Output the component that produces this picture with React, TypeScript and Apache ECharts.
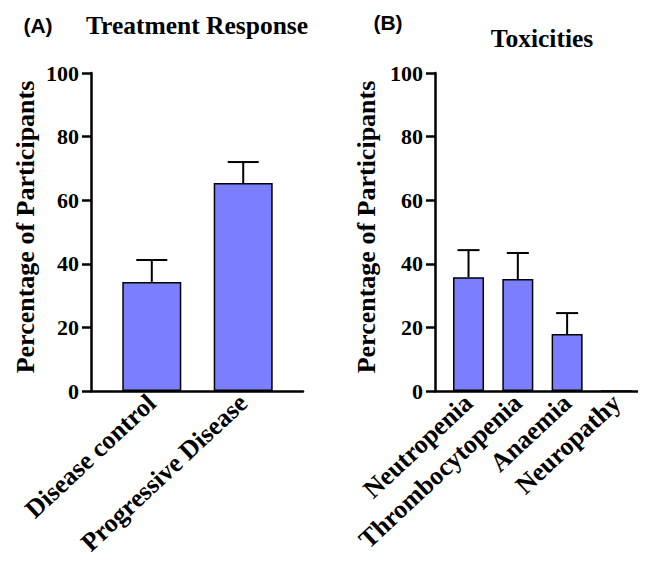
import React, { useEffect, useRef } from "react";
import * as echarts from "echarts";

const catsA = ["Disease control", "Progressive Disease"];
const meanA = [34.3, 65.4];
const errA = [6.9, 6.6];

const catsB = ["Neutropenia", "Thrombocytopenia", "Anaemia", "Neuropathy"];
const meanB = [35.8, 35.2, 17.9, 0];
const errB = [8.5, 8.2, 6.6, 0];

const SERIF = "'Liberation Serif', 'Times New Roman', serif";
const SANS = "'Liberation Sans', Arial, sans-serif";
const BAR = "#7B7FFF";

function errRender(cap: number) {
  return (params: any, api: any) => {
    const x = api.value(0);
    const y = api.value(1);
    const e = api.value(2);
    if (!e) return null;
    const base = api.coord([x, y]);
    const top = api.coord([x, y + e]);
    const st = { stroke: "#000", lineWidth: 2 };
    return {
      type: "group",
      children: [
        { type: "line", shape: { x1: base[0], y1: base[1], x2: top[0], y2: top[1] }, style: st },
        { type: "line", shape: { x1: top[0] - cap / 2, y1: top[1], x2: top[0] + cap / 2, y2: top[1] }, style: st },
      ],
    };
  };
}

export default function App() {
  const ref = useRef<HTMLDivElement>(null);
  useEffect(() => {
    const chart = echarts.init(ref.current!, null, { renderer: "svg" });
    const yAxisCommon = {
      type: "value",
      min: 0,
      max: 100,
      interval: 20,
      name: "Percentage of Participants",
      nameLocation: "middle",
      nameTextStyle: { fontFamily: SERIF, fontWeight: "bold", fontSize: 26, color: "#000", padding: [0, 0, 0, 10] },
      axisLine: { show: true, onZero: false, lineStyle: { color: "#000", width: 2.5 } },
      axisTick: { show: true, length: 9, lineStyle: { color: "#000", width: 2.5 } },
      axisLabel: { fontFamily: SERIF, fontWeight: "bold", fontSize: 22, color: "#000", margin: 12 },
      splitLine: { show: false },
    };
    const xAxisCommon = (cats: string[]) => ({
      type: "value",
      axisLine: { show: true, onZero: false, lineStyle: { color: "#000", width: 2.5 } },
      axisTick: { show: false },
      splitLine: { show: false },
      axisLabel: {
        customValues: cats.map((_, i) => i),
        formatter: (v: number) => cats[Math.round(v)] ?? "",
        rotate: 43,
        fontFamily: SERIF,
        fontWeight: "bold",
        fontSize: 26,
        color: "#000",
        margin: 8,
        showMinLabel: true,
        showMaxLabel: true,
      },
    });
    chart.setOption({
      animation: false,
      backgroundColor: "#fff",
      grid: [
        { left: 91, width: 212, top: 73, height: 318 },
        { left: 435, right: 0, top: 73, height: 318 },
      ],
      xAxis: [
        { ...xAxisCommon(catsA), gridIndex: 0, min: -0.665, max: 1.654 },
        { ...xAxisCommon(catsB), gridIndex: 1, min: -0.68, max: 3.6 },
      ],
      yAxis: [
        { ...yAxisCommon, gridIndex: 0, nameGap: 53 },
        { ...yAxisCommon, gridIndex: 1, nameGap: 56 },
      ],
      series: [
        {
          type: "bar",
          xAxisIndex: 0,
          yAxisIndex: 0,
          barWidth: 59,
          data: meanA.map((v, i) => [i, v]),
          itemStyle: { color: BAR, borderColor: "#000", borderWidth: 1.5 },
        },
        {
          type: "custom",
          xAxisIndex: 0,
          yAxisIndex: 0,
          renderItem: errRender(31),
          data: meanA.map((v, i) => [i, v, errA[i]]),
          z: 3,
        },
        {
          type: "bar",
          xAxisIndex: 1,
          yAxisIndex: 1,
          barWidth: 31,
          data: meanB.map((v, i) => [i, v]),
          itemStyle: { color: BAR, borderColor: "#000", borderWidth: 1.5 },
        },
        {
          type: "custom",
          xAxisIndex: 1,
          yAxisIndex: 1,
          renderItem: errRender(22),
          data: meanB.map((v, i) => [i, v, errB[i]]),
          z: 3,
        },
      ],
      graphic: [
        { type: "text", x: 38, y: 25, style: { text: "(A)", font: `bold 21px ${SANS}`, fill: "#000", textAlign: "center", textVerticalAlign: "middle" } },
        { type: "text", x: 197, y: 25, style: { text: "Treatment Response", font: `bold 25.5px ${SERIF}`, fill: "#000", textAlign: "center", textVerticalAlign: "middle" } },
        { type: "text", x: 388, y: 22, style: { text: "(B)", font: `bold 21px ${SANS}`, fill: "#000", textAlign: "center", textVerticalAlign: "middle" } },
        { type: "text", x: 542, y: 38, style: { text: "Toxicities", font: `bold 25.5px ${SERIF}`, fill: "#000", textAlign: "center", textVerticalAlign: "middle" } },
      ],
    });
    return () => chart.dispose();
  }, []);
  return <div ref={ref} style={{ width: 646, height: 567, margin: -8 }} />;
}
